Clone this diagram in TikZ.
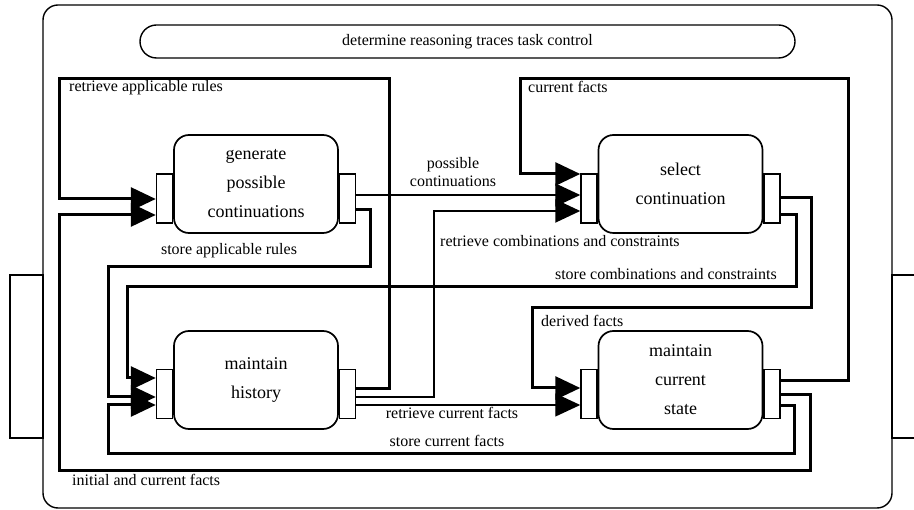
\documentclass[tikz,border=0pt]{standalone}
\usepackage{fontspec}
\setmainfont{Liberation Serif}
\usetikzlibrary{arrows.meta}
\begin{document}
\begin{tikzpicture}[x=1pt,y=-1pt,
  lbl/.style={font=\fontsize{16}{18}\selectfont, inner sep=0pt, text height=11pt, text depth=3.5pt},
  comp/.style={draw, line width=1.7pt, rounded corners=15pt, fill=white,
    minimum width=164pt, minimum height=98pt, inner sep=0pt, align=center,
    font=\fontsize{18}{29}\selectfont},
  port/.style={draw, line width=1.4pt, fill=white, minimum width=16pt,
    minimum height=49pt, inner sep=0pt},
  link/.style={line width=3pt, line join=miter},
  midlink/.style={line width=2pt, line join=miter},
  thinlink/.style={line width=1.3pt},
  into/.style={-{Triangle[length=25pt,width=23pt]}},
]
\useasboundingbox (0,0) rectangle (914,510);
\fill[white] (0,0) rectangle (914,510);

% enclosing component with its interface blocks
\draw[line width=1.4pt, rounded corners=15pt] (43,5) rectangle (892,508);
\draw[line width=1.4pt] (10,275) rectangle (43,438);
\draw[line width=1.4pt] (892,275) rectangle (918,438);

% task control
\node[draw, line width=1.4pt, rounded corners=16.5pt, minimum width=655pt,
  minimum height=33pt, inner sep=0pt, font=\fontsize{16}{18}\selectfont]
  (ctrl) at (467.5,41.5) {determine reasoning traces task control};

% components
\node[comp] (gen) at (256,184) {generate\\possible\\continuations};
\node[comp] (sel) at (680.5,184) {select\\continuation};
\node[comp] (his) at (256,380) {maintain\\history};
\node[comp] (cur) at (680.5,380) {maintain\\current\\state};

% input and output interfaces
\node[port, anchor=east] (gL) at (gen.west |- 0,198.5) {};
\node[port, anchor=west] (gR) at (gen.east |- 0,198.5) {};
\node[port, anchor=east] (sL) at (sel.west |- 0,198.5) {};
\node[port, anchor=west] (sR) at (sel.east |- 0,198.5) {};
\node[port, anchor=east] (hL) at (his.west |- 0,394) {};
\node[port, anchor=west] (hR) at (his.east |- 0,394) {};
\node[port, anchor=east] (cL) at (cur.west |- 0,394) {};
\node[port, anchor=west] (cR) at (cur.east |- 0,394) {};

% information links
\draw[link, into] (hR.east |- 0,389) -- (389,389) -- (389,79) -- (59,79)
  -- (59,199) -- (gL.west |- 0,199);
\draw[link, into] (gR.east |- 0,210) -- (370,210) -- (370,267) -- (108,267)
  -- (108,397) -- (hL.west |- 0,397);
\draw[link, into] (sR.east |- 0,215) -- (796,215) -- (796,287) -- (127,287)
  -- (127,378) -- (hL.west |- 0,378);
\draw[link, into] (sR.east |- 0,198) -- (811,198) -- (811,308) -- (532,308)
  -- (532,388) -- (cL.west |- 0,388);
\draw[link, into] (cR.east |- 0,381) -- (848,381) -- (848,79) -- (520,79)
  -- (520,174) -- (sL.west |- 0,174);
\draw[thinlink, into] (gR.east |- 0,195) -- (sL.west |- 0,195);
\draw[midlink, into] (hR.east |- 0,397) -- (434,397) -- (434,211)
  -- (sL.west |- 0,211);
\draw[thinlink, into] (hR.east |- 0,405) -- (cL.west |- 0,405);
\draw[link, into] (cR.east |- 0,395) -- (810,395) -- (810,471) -- (59,471)
  -- (59,215) -- (gL.west |- 0,215);
\draw[link, into] (cR.east |- 0,406) -- (794,406) -- (794,454) -- (108,454)
  -- (108,405) -- (hL.west |- 0,405);

% link labels
\node[lbl, anchor=west] (l1) at (69,88) {retrieve applicable rules};
\node[lbl] (l2) at (229,251) {store applicable rules};
\node[lbl, align=center, text height=, text depth=] (l3) at (453,172)
  {possible\\continuations};
\node[lbl, anchor=west] (l4) at (528,89) {current facts};
\node[lbl, anchor=west] (l5) at (440,243) {retrieve combinations and constraints};
\node[lbl, anchor=east] (l6) at (777,276) {store combinations and constraints};
\node[lbl, anchor=west] (l7) at (541,323) {derived facts};
\node[lbl] (l8) at (452,415) {retrieve current facts};
\node[lbl] (l9) at (447,443) {store current facts};
\node[lbl, anchor=west] (l10) at (72,482) {initial and current facts};
\end{tikzpicture}
\end{document}
